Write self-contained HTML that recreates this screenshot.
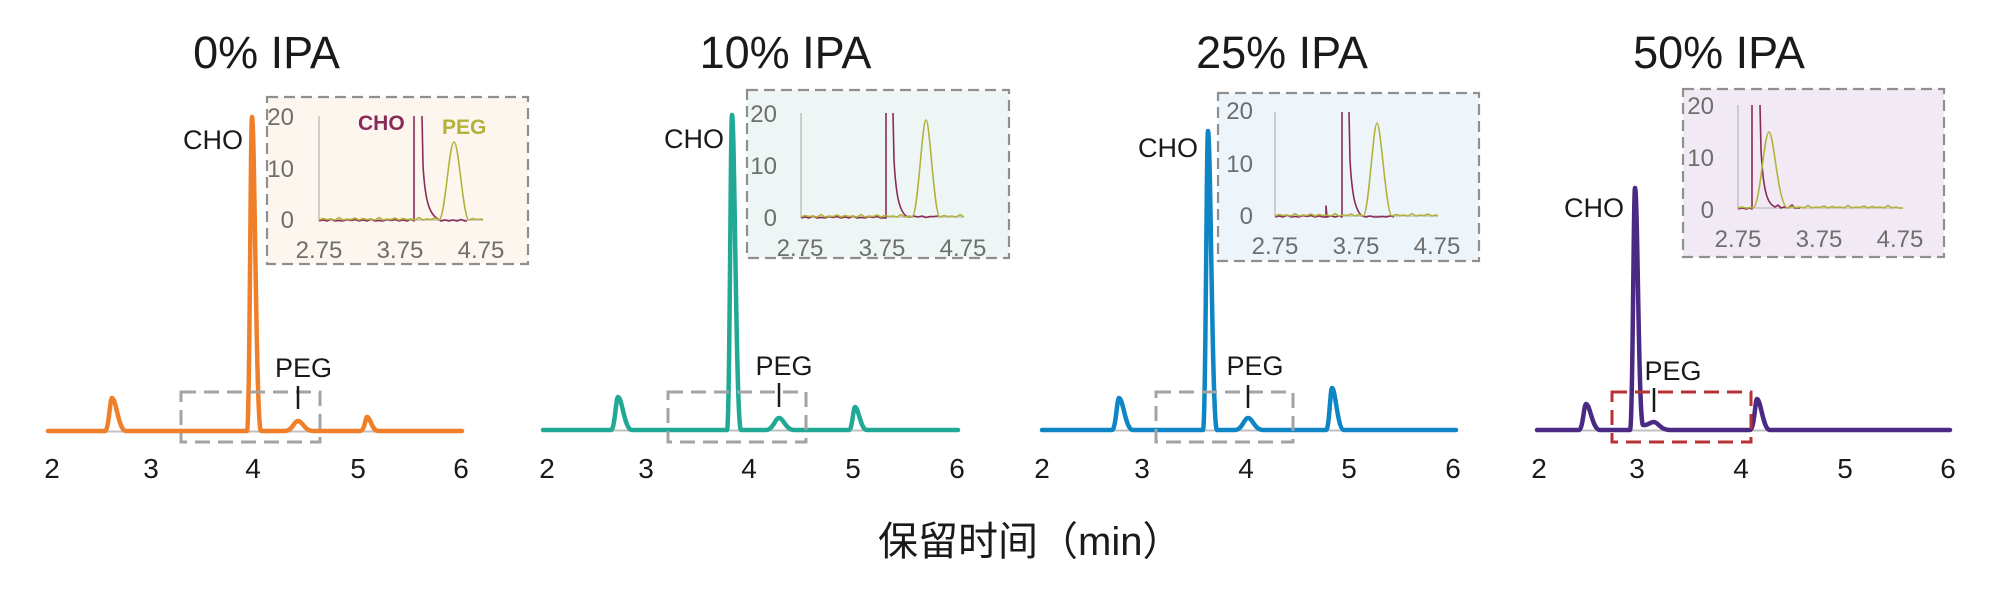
<!DOCTYPE html>
<html><head><meta charset="utf-8"><style>
html,body{margin:0;padding:0;background:#fff;}
svg{display:block;}
text{font-family:"Liberation Sans","Noto Sans CJK SC",sans-serif;}
</style></head><body>
<svg width="2000" height="591" viewBox="0 0 2000 591" xmlns="http://www.w3.org/2000/svg">
<rect width="2000" height="591" fill="#fff"/>

<!-- Titles -->
<g font-size="45" fill="#1a1a1a" text-anchor="middle">
<text x="266.5" y="68">0% IPA</text>
<text x="785.5" y="68">10% IPA</text>
<text x="1282" y="68">25% IPA</text>
<text x="1719" y="68">50% IPA</text>
</g>

<!-- Insets -->
<g stroke="#8f8f8f" stroke-width="2.2" stroke-dasharray="11 6">
<rect x="267" y="97" width="261" height="167" fill="#fdf6ee"/>
<rect x="747" y="90" width="262" height="168" fill="#eef6f5"/>
<rect x="1218" y="93" width="261" height="168" fill="#edf5fb"/>
<rect x="1683" y="89" width="261" height="168" fill="#f1eaf4"/>
</g>

<!-- inset axes -->
<g stroke="#c4c4c4" stroke-width="1.6" fill="none">
<path d="M319,116 L319,220 L483,220"/>
<path d="M801,113 L801,217 L964,217"/>
<path d="M1275,112 L1275,216 L1438,216"/>
<path d="M1738,105 L1738,208 L1903,208"/>
</g>

<!-- inset traces -->
<g fill="none" stroke-width="1.6" stroke-linejoin="round">
<!-- inset 1 -->
<path stroke="#8a2a58" d="M319,221 l4,-1 l4,1 l4,-2 l4,2 l4,-0.5 l4,0.5 l4,-1.5 l4,1 l4,-1 l4,1.5 l4,-1 l4,1 l4,-2 l4,2 l4,-0.5 l4,0.5 l4,-1.5 l4,1 l4,-1 l4,1.5 l4,-1 l4,1 l4,-2 l3,2 L414,116 M422,116 L423,165 C425,200 429,214 438,219 L441,221 l4,-1 l4,1 l4,-1 l4,1 l4,-1.5 l4,1.5 l2,0"/>
<path stroke="#b3b23a" d="M319,220 l4,-1.5 l4,1 l4,-0.5 l4,1 l4,-2.5 l4,2.5 l4,-1 l4,0.5 l4,-1.5 l4,2 l4,-1.5 l4,1 l4,-0.5 l4,1 l4,-2.5 l4,2.5 l4,-1 l4,0.5 l4,-1.5 l4,2 l4,-1.5 l4,1 l4,-0.5 l4,1 l4,-2.5 l4,2.5 l4,-1 l4,0.5 l4,-1.5 l4,2 C445,220 449,142 454,142 C459,142 463,220 469,220 l4,-1.5 l4,1 l4,-0.5 l2,1"/>
<!-- inset 2 -->
<path stroke="#8a2a58" d="M801,218 l4,-1 l4,1 l4,-2 l4,2 l4,-0.5 l4,0.5 l4,-1.5 l4,1 l4,-1 l4,1.5 l4,-1 l4,1 l4,-2 l4,2 l4,-0.5 l4,0.5 l4,-1.5 l4,1 l4,-1 l4,1.5 l5,0 L886,113 M893,113 L894,160 C896,195 899,210 906,216 l4,1 l4,-1 l4,1 l4,-1 l4,1.5 l4,-1 l4,0 l4,-0.5"/>
<path stroke="#b3b23a" d="M801,217 l4,-1.5 l4,1 l4,-0.5 l4,1 l4,-2.5 l4,2.5 l4,-1 l4,0.5 l4,-1.5 l4,2 l4,-1.5 l4,1 l4,-0.5 l4,1 l4,-2.5 l4,2.5 l4,-1 l4,0.5 l4,-1.5 l4,2 l4,-1.5 l4,1 l4,-0.5 l4,1 l4,-2.5 l4,2.5 l4,-1 l3,1 C918,217 922,120 926,120 C930,120 934,217 940,217 l4,-1.5 l4,1 l4,-0.5 l4,1 l4,-2.5 l4,2.5"/>
<!-- inset 3 -->
<path stroke="#8a2a58" d="M1275,217 l4,-1 l4,1 l4,-2 l4,2 l4,-0.5 l4,0.5 l4,-1.5 l4,1 l4,-1 l4,1.5 l4,-1 l4,1 l3,0 L1326,206 L1327,217 l4,-1 l4,1 l4,-1 l3,1 L1342,112 M1349,112 L1350,160 C1352,195 1355,210 1362,216 l4,1 l4,-1 l4,1 l4,0 l4,-0.5 l4,0.5 l4,-1 l4,1"/>
<path stroke="#b3b23a" d="M1275,216 l4,-1.5 l4,1 l4,-0.5 l4,1 l4,-2.5 l4,2.5 l4,-1 l4,0.5 l4,-1.5 l4,2 l4,-1.5 l4,1 l4,-0.5 l4,1 l4,-2.5 l4,2.5 l4,-1 l4,0.5 l4,-1.5 l4,2 l4,-1.5 l4,1.5 C1369,216 1373,123 1377,123 C1381,123 1386,216 1392,216 l4,-1.5 l4,1 l4,-0.5 l4,1 l4,-2.5 l4,2.5 l4,-1 l4,0.5 l4,-1.5 l4,2 l4,-1 l2,1"/>
<!-- inset 4 -->
<path stroke="#8a2a58" d="M1738,209 l4,-1 l4,1 l4,-1 l2,1 L1752,105 M1760,105 L1761,150 C1763,185 1766,200 1772,205 l3,2 l3,-2 l3,3 l3,-1 l4,1 l4,-3 l3,3 l5,0"/>
<path stroke="#b3b23a" d="M1738,208 l4,-1 l4,1 l4,-0.5 l3,0.5 C1760,208 1764,132 1769,132 C1774,132 1778,208 1788,208 l4,-1.5 l4,1 l4,-0.5 l4,1 l4,-2.5 l4,2.5 l4,-1 l4,0.5 l4,-1.5 l4,2 l4,-1.5 l4,1 l4,-0.5 l4,1 l4,-2.5 l4,2.5 l4,-1 l4,0.5 l4,-1.5 l4,2 l4,-1.5 l4,1 l4,-0.5 l4,1 l4,-2.5 l4,2.5 l4,-1 l3,1 l4,0"/>
</g>

<!-- inset labels -->
<g font-size="24" fill="#6e6e6e">
<g text-anchor="end">
<text x="294" y="125">20</text><text x="294" y="177">10</text><text x="294" y="228">0</text>
<text x="777" y="122">20</text><text x="777" y="174">10</text><text x="777" y="226">0</text>
<text x="1253" y="119">20</text><text x="1253" y="172">10</text><text x="1253" y="224">0</text>
<text x="1714" y="114">20</text><text x="1714" y="166">10</text><text x="1714" y="218">0</text>
</g>
<g text-anchor="middle">
<text x="319" y="258">2.75</text><text x="400" y="258">3.75</text><text x="481" y="258">4.75</text>
<text x="800" y="256">2.75</text><text x="882" y="256">3.75</text><text x="963" y="256">4.75</text>
<text x="1275" y="254">2.75</text><text x="1356" y="254">3.75</text><text x="1437" y="254">4.75</text>
<text x="1738" y="247">2.75</text><text x="1819" y="247">3.75</text><text x="1900" y="247">4.75</text>
</g>
</g>
<text x="358" y="130" font-size="21" font-weight="bold" fill="#8a2a58">CHO</text>
<text x="442" y="134" font-size="21" font-weight="bold" fill="#b3b23a">PEG</text>

<!-- gray baselines -->
<g stroke="#c0c0c0" stroke-width="2">
<line x1="48" y1="431.5" x2="462" y2="431.5"/>
<line x1="543" y1="430.5" x2="958" y2="430.5"/>
<line x1="1042" y1="430.5" x2="1456" y2="430.5"/>
<line x1="1537" y1="430.5" x2="1950" y2="430.5"/>
</g>

<!-- main curves -->
<g fill="none" stroke-width="4.5" stroke-linejoin="round" stroke-linecap="round">
<path stroke="#f07f2a" d="M48,431 L105,431 C108.85,431 109.9,398 112,398 C116.2,398 118.3,431 126,431 L247,431 C249.75,431 250.5,117 252,117 C254.7,117 256,431 261,431 L285,431 C292.15,431 294.1,421 298,421 C302.5,421 304.75,431 313,431 L360,431 C364.75,431 365.5,417 367,417 C370.3,417 372,431 378,431 L462,431"/>
<path stroke="#22a996" d="M543,430 L611,430 C614.85,430 615.9,397 618,397 C622.2,397 624.3,430 632,430 L727,430 C729.75,430 730.5,115 732,115 C734.7,115 736,430 741,430 L766,430 C773.15,430 775.1,418 779,418 C783.5,418 785.75,430 794,430 L849,430 C852.3,430 853.2,407 855,407 C858.6,407 860.4,430 867,430 L958,430"/>
<path stroke="#0e86c6" d="M1042,430 L1112,430 C1115.85,430 1116.9,398 1119,398 C1123.2,398 1125.3,430 1133,430 L1203,430 C1205.75,430 1206.5,131 1208,131 C1210.7,131 1212,430 1217,430 L1235,430 C1242.15,430 1244.1,418 1248,418 C1252.5,418 1254.75,430 1263,430 L1326,430 C1329.3,430 1330.2,388 1332,388 C1335.6,388 1337.4,430 1344,430 L1456,430"/>
<path stroke="#4b2a83" d="M1537,430 L1579,430 C1582.85,430 1583.9,404 1586,404 C1590.2,404 1592.3,430 1600,430 L1630,430 C1632.75,430 1633.5,188 1635,188 C1637.7,188 1638.5,424 1643,425 C1647,426 1650,422 1654,422 C1658,422 1660,430 1670,430 L1750,430 C1754.3,430 1755.2,399 1757,399 C1760.9,399 1762.9,430 1770,430 L1950,430"/>
</g>

<!-- zoom boxes -->
<g fill="none" stroke-width="3" stroke-dasharray="15 8">
<rect x="181" y="392" width="139" height="50" stroke="#a3a3a3"/>
<rect x="668" y="392" width="138" height="50" stroke="#a3a3a3"/>
<rect x="1156" y="392" width="137" height="50" stroke="#a3a3a3"/>
<rect x="1612" y="392" width="139" height="50" stroke="#b83234"/>
</g>

<!-- PEG ticks -->
<g stroke="#1a1a1a" stroke-width="2.5">
<line x1="298" y1="386" x2="298" y2="409"/>
<line x1="779" y1="383" x2="779" y2="407"/>
<line x1="1248" y1="385" x2="1248" y2="408"/>
<line x1="1654" y1="388" x2="1654" y2="412"/>
</g>

<!-- peak labels -->
<g font-size="27" fill="#1a1a1a">
<g text-anchor="end">
<text x="243" y="149">CHO</text>
<text x="724" y="148">CHO</text>
<text x="1198" y="157">CHO</text>
<text x="1624" y="217">CHO</text>
</g>
<g text-anchor="middle">
<text x="303.5" y="377">PEG</text>
<text x="784" y="375">PEG</text>
<text x="1255" y="375">PEG</text>
<text x="1673" y="380">PEG</text>
</g>
</g>

<!-- tick labels -->
<g font-size="28" fill="#1a1a1a" text-anchor="middle">
<text x="52" y="478">2</text><text x="151" y="478">3</text><text x="253" y="478">4</text><text x="358" y="478">5</text><text x="461" y="478">6</text>
<text x="547" y="478">2</text><text x="646" y="478">3</text><text x="749" y="478">4</text><text x="853" y="478">5</text><text x="957" y="478">6</text>
<text x="1042" y="478">2</text><text x="1142" y="478">3</text><text x="1246" y="478">4</text><text x="1349" y="478">5</text><text x="1453" y="478">6</text>
<text x="1539" y="478">2</text><text x="1637" y="478">3</text><text x="1741" y="478">4</text><text x="1845" y="478">5</text><text x="1948" y="478">6</text>
</g>

<!-- axis title -->
<text x="878" y="555" font-size="40" fill="#1a1a1a">保留时间（min）</text>
</svg>
</body></html>
